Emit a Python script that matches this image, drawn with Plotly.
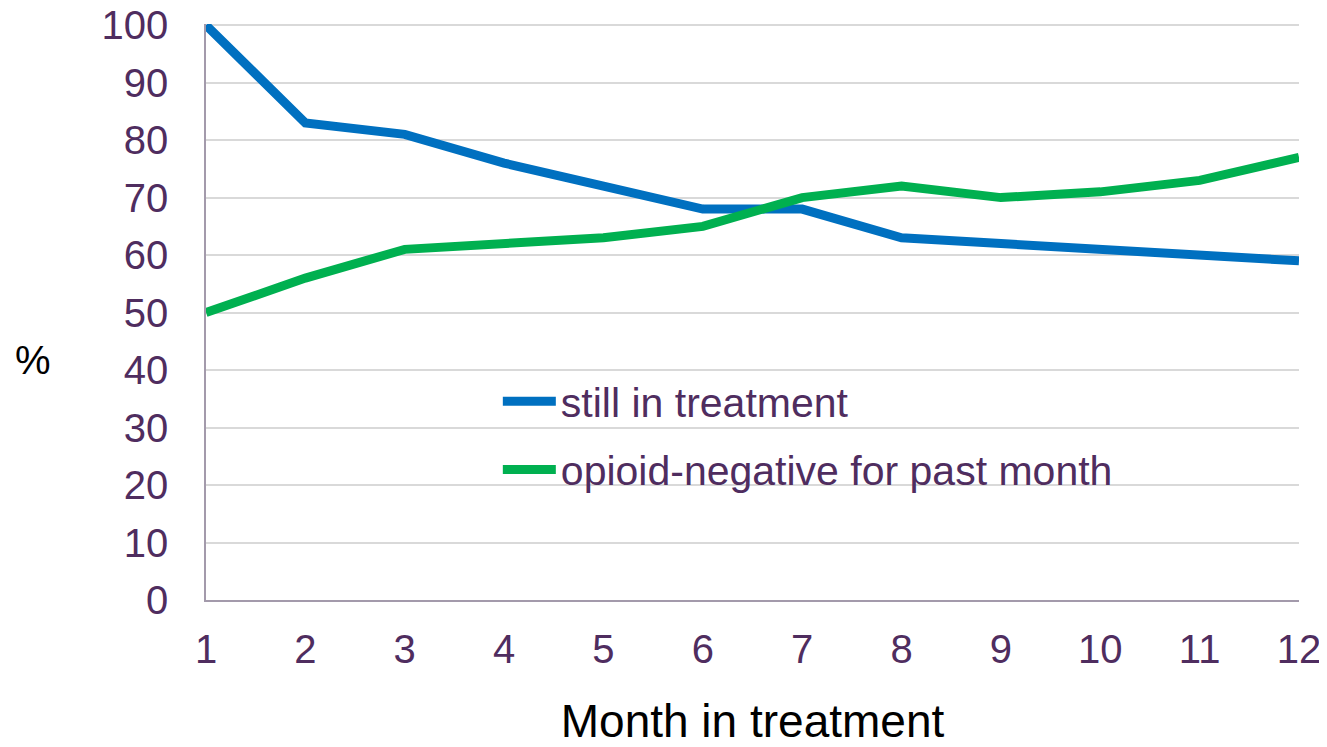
import plotly.graph_objects as go

months = list(range(1, 13))
still_in_treatment = [100, 83, 81, 76, 72, 68, 68, 63, 62, 61, 60, 59]
opioid_negative = [50, 56, 61, 62, 63, 65, 70, 72, 70, 71, 73, 77]
y_ticks = list(range(0, 101, 10))

BLUE = "#0070C0"
GREEN = "#00B050"
PURPLE = "#4F2D5F"
FONT = "Liberation Sans, Arial, sans-serif"

fig = go.Figure()
fig.add_trace(go.Scatter(x=months, y=still_in_treatment, mode="lines",
                         name="still in treatment", legend="legend",
                         showlegend=True,
                         line=dict(color=BLUE, width=9)))
fig.add_trace(go.Scatter(x=months, y=opioid_negative, mode="lines",
                         name="opioid-negative for past month", legend="legend2",
                         showlegend=True,
                         line=dict(color=GREEN, width=9)))

# "%" sits horizontally left of the axis, so draw it as an annotation.
fig.add_annotation(text="%", xref="paper", yref="paper", x=-0.158, y=0.417,
                   xanchor="center", yanchor="middle", showarrow=False,
                   font=dict(family=FONT, size=40, color="black"))

leg = dict(xanchor="left", yanchor="middle", bgcolor="rgba(0,0,0,0)",
           font=dict(family=FONT, size=41, color=PURPLE), itemwidth=53)

# page body has an 8px margin, so the margins are shifted to compensate;
# the y range goes a hair past 100 so the top gridline is still drawn
fig.update_layout(
    width=1327, height=747,
    paper_bgcolor="white", plot_bgcolor="white",
    showlegend=True,
    margin=dict(l=198, r=36, t=16, b=155),
    font=dict(family=FONT, color=PURPLE),
    legend=dict(leg, x=0.267, y=(600 - 402) / 575),
    legend2=dict(leg, x=0.267, y=(600 - 470) / 575),
    xaxis=dict(range=[1, 12], tickvals=months, showgrid=False,
               showline=True, linecolor="#A39AAB", linewidth=1.5,
               tickfont=dict(family=FONT, size=40, color=PURPLE),
               ticklabelstandoff=13, zeroline=False, automargin=False,
               ticklabeloverflow="allow",
               title=dict(text="Month in treatment", standoff=35,
                          font=dict(family=FONT, size=46, color="black"))),
    yaxis=dict(range=[0, 100.2], tickvals=y_ticks, showgrid=True,
               gridcolor="#D9D9D9", gridwidth=1.5,
               showline=True, linecolor="#A39AAB", linewidth=1.5,
               tickfont=dict(family=FONT, size=40, color=PURPLE),
               ticklabelstandoff=28, zeroline=False, automargin=False,
               ticklabeloverflow="allow"),
)

fig.write_html("out.html")
